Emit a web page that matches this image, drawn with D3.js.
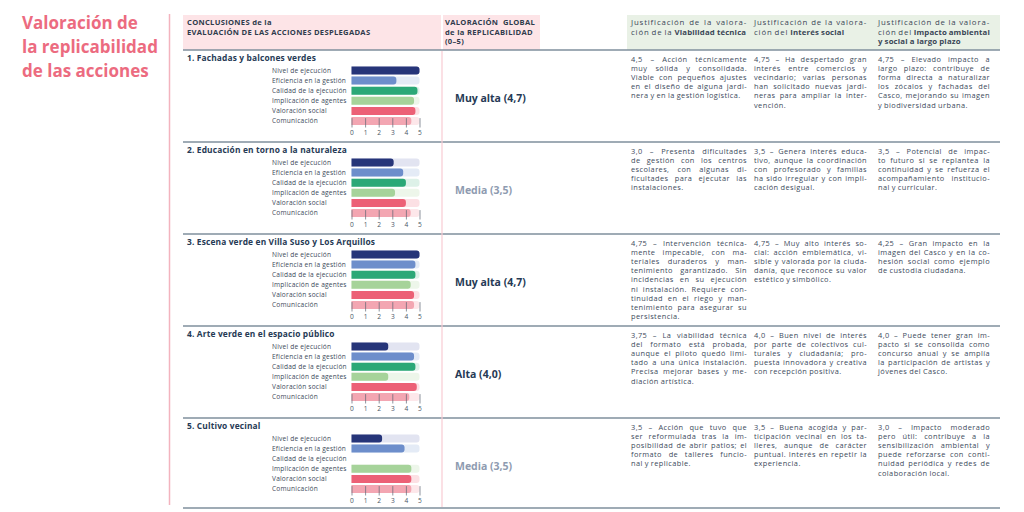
<!DOCTYPE html>
<html>
<head>
<meta charset="utf-8">
<script src="https://cdn.jsdelivr.net/npm/d3@7"></script>
<style>
  body { margin: 0; background: #fff; }
  svg { display: block; font-family: "Open Sans", sans-serif; }
</style>
</head>
<body>
<svg id="chart" width="1024" height="512"></svg>
<script>
// rows of the table
var actions = [
  "1. Fachadas y balcones verdes",
  "2. Educación en torno a la naturaleza",
  "3. Escena verde en Villa Suso y Los Arquillos",
  "4. Arte verde en el espacio público",
  "5. Cultivo vecinal"
];

var criteria = [
  "Nivel de ejecución",
  "Eficiencia en la gestión",
  "Calidad de la ejecución",
  "Implicación de agentes",
  "Valoración social",
  "Comunicación"
];

// score per criterion (0-5), null = no bar
var scores = [
  [5.0, 3.3, 4.85, 4.6, 4.7, 4.4],
  [3.1, 3.8, 4.0, 3.2, 4.0, 4.35],
  [5.0, 4.7, 4.7, 4.35, 4.6, 4.6],
  [2.7, 4.6, 4.7, 2.7, 4.8, 4.25],
  [2.25, 3.9, null, 4.4, 4.4, 4.4]
];

var axisTicks = [0, 1, 2, 3, 4, 5];

var globalLevel = ["Muy alta", "Media", "Muy alta", "Alta", "Media"];
var globalScore = ["4,7", "3,5", "4,7", "4,0", "3,5"];

var headerLeft = ["CONCLUSIONES de la", "EVALUACIÓN DE LAS ACCIONES DESPLEGADAS"];
var headerGlobal = ["VALORACIÓN  GLOBAL", "de la REPLICABILIDAD", "(0–5)"];
// ** toggles bold
var headerJust = [
  ["Justificación de la valora-", "ción de la **Viabilidad técnica**"],
  ["Justificación de la valora-", "ción del **Interés social**"],
  ["Justificación de la valora-", "ción del **Impacto ambiental**", "**y social a largo plazo**"]
];

var viabilidad = [
  ["4,5 – Acción técnicamente", "muy sólida y consolidada.", "Viable con pequeños ajustes", "en el diseño de alguna jardi-", "nera y en la gestión logística."],
  ["3,0 – Presenta dificultades", "de gestión con los centros", "escolares, con algunas di-", "ficultades para ejecutar las", "instalaciones."],
  ["4,75 – Intervención técnica-", "mente impecable, con ma-", "teriales duraderos y man-", "tenimiento garantizado. Sin", "incidencias en su ejecución", "ni instalación. Requiere con-", "tinuidad en el riego y man-", "tenimiento para asegurar su", "persistencia."],
  ["3,75 – La viabilidad técnica", "del formato está probada,", "aunque el piloto quedó limi-", "tado a una única instalación.", "Precisa mejorar bases y me-", "diación artística."],
  ["3,5 – Acción que tuvo que", "ser reformulada tras la im-", "posibilidad de abrir patios; el", "formato de talleres funcio-", "nal y replicable."]
];

var interes = [
  ["4,75 – Ha despertado gran", "interés entre comercios y", "vecindario; varias personas", "han solicitado nuevas jardi-", "neras para ampliar la inter-", "vención."],
  ["3,5 – Genera interés educa-", "tivo, aunque la coordinación", "con profesorado y familias", "ha sido irregular y con impli-", "cación desigual."],
  ["4,75 – Muy alto interés so-", "cial: acción emblemática, vi-", "sible y valorada por la ciuda-", "danía, que reconoce su valor", "estético y simbólico."],
  ["4,0 – Buen nivel de interés", "por parte de colectivos cul-", "turales y ciudadanía; pro-", "puesta innovadora y creativa", "con recepción positiva."],
  ["3,5 – Buena acogida y par-", "ticipación vecinal en los ta-", "lleres, aunque de carácter", "puntual. Interés en repetir la", "experiencia."]
];

var impacto = [
  ["4,75 – Elevado impacto a", "largo plazo: contribuye de", "forma directa a naturalizar", "los zócalos y fachadas del", "Casco, mejorando su imagen", "y biodiversidad urbana."],
  ["3,5 – Potencial de impac-", "to futuro si se replantea la", "continuidad y se refuerza el", "acompañamiento institucio-", "nal y curricular."],
  ["4,25 – Gran impacto en la", "imagen del Casco y en la co-", "hesión social como ejemplo", "de custodia ciudadana."],
  ["4,0 – Puede tener gran im-", "pacto si se consolida como", "concurso anual y se amplía", "la participación de artistas y", "jóvenes del Casco."],
  ["3,0 – Impacto moderado", "pero útil: contribuye a la", "sensibilización ambiental y", "puede reforzarse con conti-", "nuidad periódica y redes de", "colaboración local."]
];

var titleLines = ["Valoración de", "la replicabilidad", "de las acciones"];

var barColors = ["#263579", "#6d8ecb", "#2ba877", "#a6d39a", "#ec6076", "#f3a6b2"],
    trackColors = ["#e2e4f1", "#e4ebf6", "#ddf1e8", "#edf6ea", "#fce0e4", "#fde7ea"];

var svg = d3.select("#chart");

var tableL = 183, tableR = 1000,
    headTop = 15, headBottom = 50,
    rowH = 92, tableBottom = 508,
    colX = [631, 754, 878], colW = [116, 113, 112];

// big title on the left
svg.append("g").selectAll("text")
  .data(titleLines)
  .enter().append("text")
    .attr("x", 22)
    .attr("y", function(d, i) { return 29 + i * 24; })
    .attr("fill", "#ec6b80")
    .attr("font-size", 17)
    .attr("font-weight", 700)
    .text(function(d) { return d; });

svg.append("line")
    .attr("x1", 169.5).attr("x2", 169.5)
    .attr("y1", 14).attr("y2", 505)
    .attr("stroke", "#f3b3be").attr("stroke-width", 1.5);

// header backgrounds
svg.append("rect").attr("x", tableL).attr("y", headTop)
    .attr("width", 441 - tableL).attr("height", headBottom - headTop).attr("fill", "#fde4e7");
svg.append("rect").attr("x", 443).attr("y", headTop)
    .attr("width", 540 - 443).attr("height", headBottom - headTop).attr("fill", "#fde4e7");
svg.append("rect").attr("x", 627).attr("y", headTop)
    .attr("width", tableR - 627).attr("height", headBottom - headTop).attr("fill", "#e9f1e6");

svg.append("g").selectAll("text")
  .data(headerLeft)
  .enter().append("text")
    .attr("x", 187)
    .attr("y", function(d, i) { return 25 + i * 9.5; })
    .attr("font-size", 7.6).attr("font-weight", 700).attr("fill", "#2f3b4c")
    .attr("letter-spacing", 0.3)
    .text(function(d) { return d; });

svg.append("g").selectAll("text")
  .data(headerGlobal)
  .enter().append("text")
    .attr("x", 445)
    .attr("y", function(d, i) { return 25 + i * 9.5; })
    .attr("font-size", 7.6).attr("font-weight", 700).attr("fill", "#2f3b4c")
    .attr("letter-spacing", 0.3)
    .attr("xml:space", "preserve")
    .text(function(d) { return d; });

// one line of text, spread to the column width unless it is the last one
function drawLine(g, str, x, y, width, justify, size, color, ls, lsBold) {
  var words = [], bold = false;
  str.split(" ").forEach(function(w) {
    var parts = w.split("**");
    parts.forEach(function(p, k) {
      if (k > 0) bold = !bold;
      if (p) words.push({ t: p, b: bold });
    });
  });
  var text = g.append("text").attr("y", y).attr("font-size", size).attr("fill", color);
  var spans = words.map(function(w) {
    return text.append("tspan")
        .attr("font-weight", w.b ? 700 : 400)
        .attr("letter-spacing", w.b ? lsBold : ls)
        .text(w.t);
  });
  var widths = spans.map(function(s) { return s.node().getComputedTextLength(); });
  var total = d3.sum(widths);
  var gap = justify && words.length > 1 ? (width - total) / (words.length - 1) : size * 0.26;
  if (gap < 0.8) gap = 0.8;
  var cx = x;
  spans.forEach(function(s, k) {
    s.attr("x", cx);
    cx += widths[k] + gap;
  });
}

var headG = svg.append("g");
headerJust.forEach(function(lines, c) {
  lines.forEach(function(l, i) {
    drawLine(headG, l, colX[c], 25 + i * 9.5, colW[c], i < lines.length - 1 || c === 2 && i === 1,
      7.8, "#3a4656", 0.85, 0.15);
  });
});

// grid lines
var seps = d3.range(actions.length).map(function(i) { return headBottom + i * rowH; }).concat([tableBottom]);
svg.append("g").selectAll("line")
  .data(seps)
  .enter().append("line")
    .attr("x1", tableL).attr("x2", tableR)
    .attr("y1", function(d) { return d; }).attr("y2", function(d) { return d; })
    .attr("stroke", "#7f8f9c").attr("stroke-width", 1.3);

svg.append("line")
    .attr("x1", 442).attr("x2", 442)
    .attr("y1", headBottom + 1).attr("y2", tableBottom - 1)
    .attr("stroke", "#f8ccd3").attr("stroke-width", 1.2);

var x = d3.scaleLinear().domain([0, 5]).range([351.5, 419.5]);
var band = d3.scaleBand().domain(criteria).range([16.5, 75]).paddingInner(0.22);
var barH = band.bandwidth();

function roundRight(w, h, r) {
  r = Math.min(r, w, h / 2);
  return "M0,0h" + (w - r) + "a" + r + "," + r + " 0 0 1 " + r + "," + r +
         "v" + (h - 2 * r) + "a" + r + "," + r + " 0 0 1 " + (-r) + "," + r +
         "h" + (-(w - r)) + "Z";
}

actions.forEach(function(name, s) {
  var top = headBottom + s * rowH;
  var g = svg.append("g").attr("transform", "translate(0," + top + ")");

  g.append("text")
      .attr("x", 187).attr("y", 11)
      .attr("font-size", 8.4).attr("font-weight", 700).attr("fill", "#263a55")
      .attr("letter-spacing", 0.15)
      .text(name);

  var rows = g.selectAll(".crit")
    .data(criteria)
    .enter().append("g")
      .attr("class", "crit")
      .attr("transform", function(d) { return "translate(0," + band(d) + ")"; });

  rows.append("text")
      .attr("x", 272).attr("y", barH / 2).attr("dy", "0.35em")
      .attr("font-size", 6.6).attr("fill", "#3d4a5a")
      .attr("letter-spacing", 0.2)
      .text(function(d) { return d; });

  rows.filter(function(d, i) { return scores[s][i] !== null; })
    .append("path")
      .attr("transform", "translate(" + x(0) + ",0)")
      .attr("d", roundRight(x(5) - x(0), barH, 3))
      .attr("fill", function(d) { return trackColors[criteria.indexOf(d)]; });

  rows.filter(function(d, i) { return scores[s][i] !== null; })
    .append("path")
      .attr("transform", "translate(" + x(0) + ",0)")
      .attr("d", function(d) { return roundRight(x(scores[s][criteria.indexOf(d)]) - x(0), barH, 3); })
      .attr("fill", function(d) { return barColors[criteria.indexOf(d)]; });

  var last = band(criteria[criteria.length - 1]);
  var axis = g.append("g")
      .attr("transform", "translate(0," + (last + barH + 2.5) + ")")
      .call(d3.axisBottom(x).tickValues(axisTicks).tickFormat(d3.format("d"))
        .tickSize(-(barH + 1.5)).tickPadding(3));
  axis.select(".domain").remove();
  axis.selectAll(".tick line").attr("stroke", "#5b6573").attr("stroke-width", 0.7);
  axis.selectAll(".tick text").attr("fill", "#4a5564").attr("font-size", 6.6)
      .attr("font-family", "Open Sans, sans-serif");

  g.append("text")
      .attr("x", 455).attr("y", 48).attr("dy", "0.35em")
      .attr("font-size", 10.5).attr("font-weight", 700)
      .attr("fill", globalLevel[s] === "Media" ? "#8e9bb0" : "#263a55")
      .text(globalLevel[s] + " (" + globalScore[s] + ")");

  [viabilidad[s], interes[s], impacto[s]].forEach(function(lines, c) {
    lines.forEach(function(l, i) {
      drawLine(g, l, colX[c], 11.5 + i * 9.2, colW[c], i < lines.length - 1, 7.4, "#3c4a5c", 0.42, 0.42);
    });
  });
});
</script>
</body>
</html>
